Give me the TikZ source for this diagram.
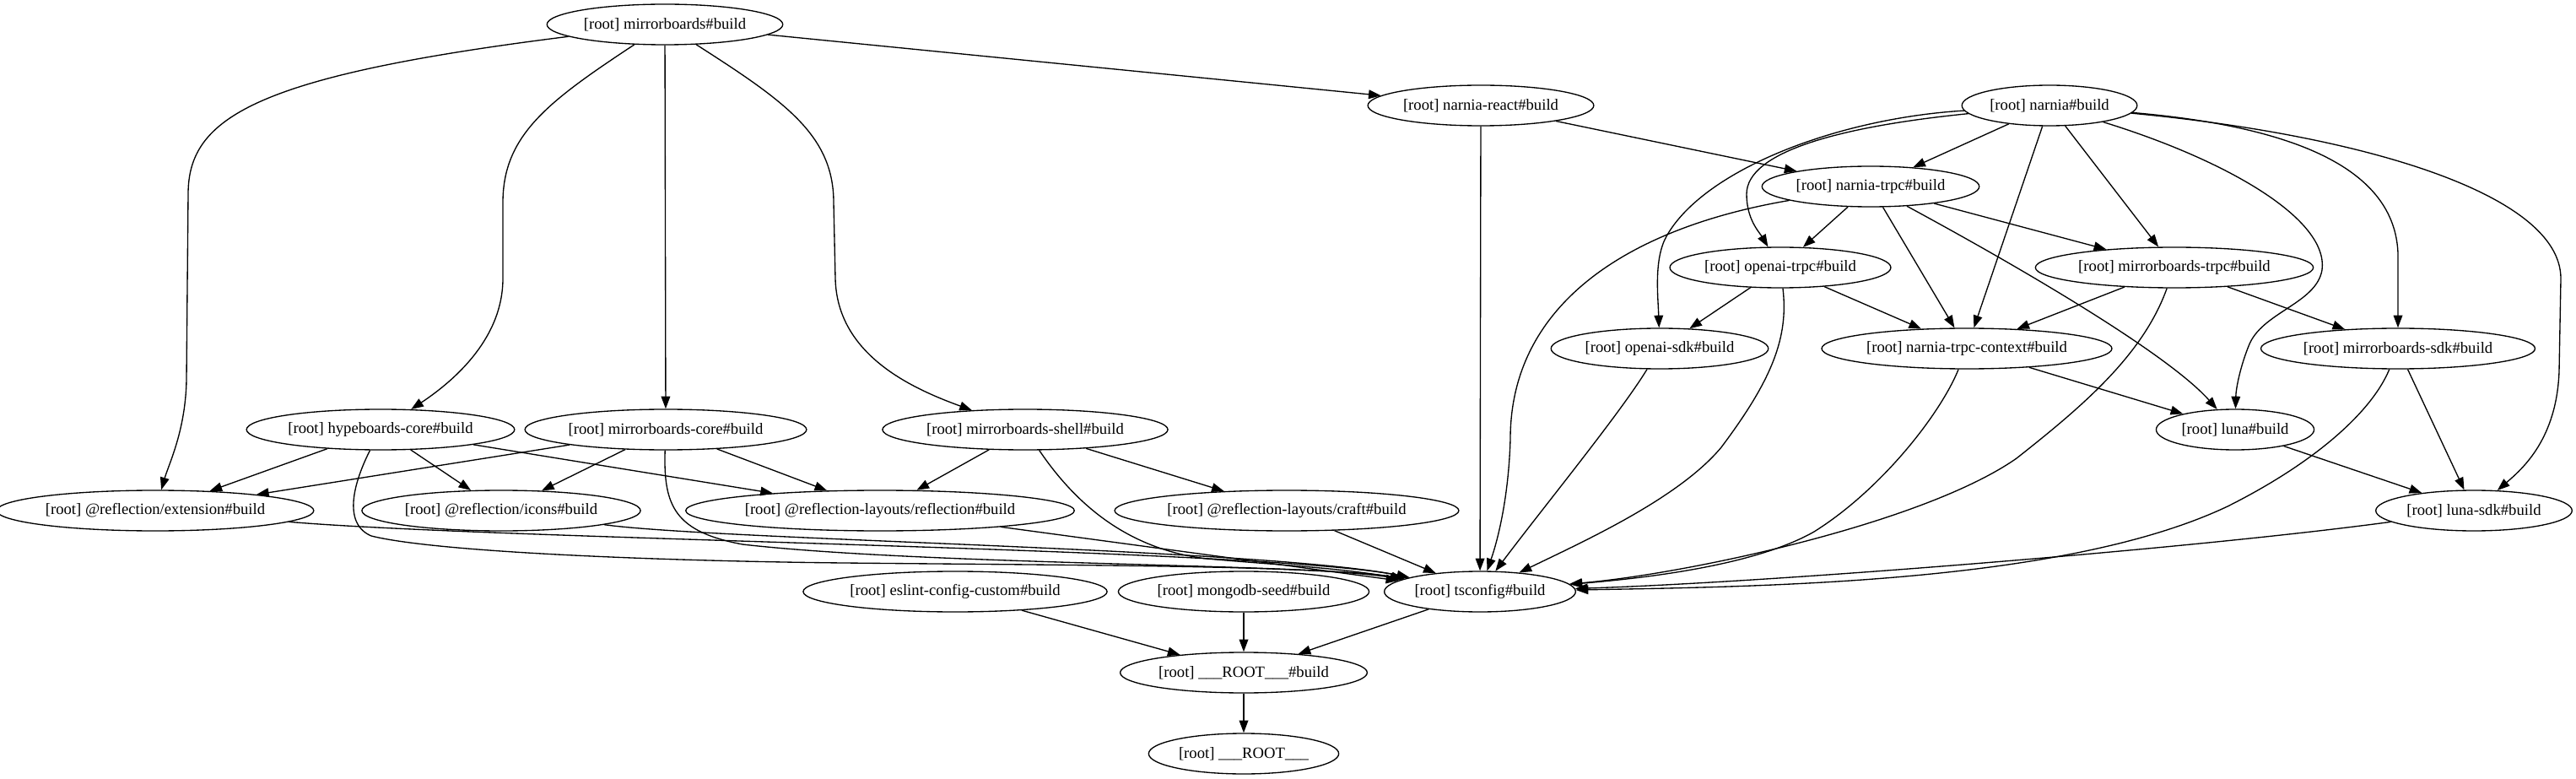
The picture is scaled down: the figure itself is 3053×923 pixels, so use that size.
\documentclass[tikz,border=0pt]{standalone}
\usepackage{fontspec}
\setmainfont{Liberation Serif}
\usetikzlibrary{arrows.meta,shapes.geometric}

\tikzset{
  task/.style={draw, ellipse, line width=1pt, inner xsep=2pt, inner ysep=0pt,
    minimum height=36pt, font=\fontsize{14pt}{16pt}\selectfont},
  dep/.style={line width=1pt, -{Triangle[length=11pt,width=8pt]}}
}

\begin{document}
\begin{tikzpicture}[x=0.75pt, y=-0.75pt]
  \useasboundingbox (0,0) rectangle (3053,923);

  \node[task] (mb) at (788,29) {[root] mirrorboards\#build};
  \node[task] (nreact) at (1755,125) {[root] narnia-react\#build};
  \node[task] (narnia) at (2429,125) {[root] narnia\#build};
  \node[task] (ntrpc) at (2217,221) {[root] narnia-trpc\#build};
  \node[task] (otrpc) at (2110,317) {[root] openai-trpc\#build};
  \node[task] (mtrpc) at (2577,317) {[root] mirrorboards-trpc\#build};
  \node[task] (osdk) at (1967,413) {[root] openai-sdk\#build};
  \node[task] (nctx) at (2331,413) {[root] narnia-trpc-context\#build};
  \node[task] (msdk) at (2842,413) {[root] mirrorboards-sdk\#build};
  \node[task] (hcore) at (451,509) {[root] hypeboards-core\#build};
  \node[task] (mcore) at (789,509) {[root] mirrorboards-core\#build};
  \node[task] (mshell) at (1215,509) {[root] mirrorboards-shell\#build};
  \node[task] (luna) at (2649,509) {[root] luna\#build};
  \node[task] (rext) at (184,605) {[root] @reflection/extension\#build};
  \node[task] (ricons) at (594,605) {[root] @reflection/icons\#build};
  \node[task] (rlay) at (1043,605) {[root] @reflection-layouts/reflection\#build};
  \node[task] (rcraft) at (1525,605) {[root] @reflection-layouts/craft\#build};
  \node[task] (lsdk) at (2932,605) {[root] luna-sdk\#build};
  \node[task] (eslint) at (1132,701) {[root] eslint-config-custom\#build};
  \node[task] (mongo) at (1474,701) {[root] mongodb-seed\#build};
  \node[task] (tscfg) at (1754,701) {[root] tsconfig\#build};
  \node[task] (rootb) at (1474,797) {[root] \_\_\_ROOT\_\_\_\#build};
  \node[task] (root) at (1474,893) {[root] \_\_\_ROOT\_\_\_};

  % mirrorboards
  \draw[dep] (mb) .. controls (300,90) and (223,140) .. (223,230) -- (221,450) .. controls (220,510) and (200,550) .. (rext);
  \draw[dep] (mb) .. controls (650,120) and (596,160) .. (596,240) -- (596,330) .. controls (596,400) and (540,450) .. (hcore);
  \draw[dep] (mb) -- (mcore);
  \draw[dep] (mb) .. controls (930,120) and (988,160) .. (988,240) -- (990,330) .. controls (992,420) and (1080,460) .. (mshell);
  \draw[dep] (mb) -- (nreact);

  % narnia-react
  \draw[dep] (nreact) -- (tscfg);
  \draw[dep] (nreact) -- (ntrpc);

  % narnia
  \draw[dep] (narnia) -- (ntrpc);
  \draw[dep] (narnia) .. controls (2180,150) and (2070,180) .. (2070,230) .. controls (2070,260) and (2085,275) .. (otrpc);
  \draw[dep] (narnia) .. controls (2180,140) and (2020,200) .. (1975,280) .. controls (1960,307) and (1965,350) .. (osdk);
  \draw[dep] (narnia) -- (nctx);
  \draw[dep] (narnia) -- (mtrpc);
  \draw[dep] (narnia) .. controls (2640,190) and (2760,260) .. (2752,320) .. controls (2745,360) and (2680,370) .. (2665,410) .. controls (2655,435) and (2650,460) .. (luna);
  \draw[dep] (narnia) .. controls (2720,150) and (2838,200) .. (2842,300) -- (msdk);
  \draw[dep] (narnia) .. controls (2800,160) and (3035,230) .. (3035,330) -- (3033,440) .. controls (3030,520) and (2990,555) .. (lsdk);

  % narnia-trpc
  \draw[dep] (ntrpc) -- (otrpc);
  \draw[dep] (ntrpc) -- (nctx);
  \draw[dep] (ntrpc) -- (mtrpc);
  \draw[dep] (ntrpc) .. controls (2400,320) and (2570,420) .. (luna);
  \draw[dep] (ntrpc) .. controls (1930,270) and (1790,360) .. (1790,520) .. controls (1788,590) and (1775,640) .. (tscfg);

  % openai-trpc, mirrorboards-trpc
  \draw[dep] (otrpc) -- (osdk);
  \draw[dep] (otrpc) -- (nctx);
  \draw[dep] (otrpc) .. controls (2120,400) and (2100,450) .. (2040,530) .. controls (1990,590) and (1880,640) .. (tscfg);
  \draw[dep] (mtrpc) -- (nctx);
  \draw[dep] (mtrpc) -- (msdk);
  \draw[dep] (mtrpc) .. controls (2540,420) and (2470,480) .. (2390,543) .. controls (2280,620) and (2000,680) .. (tscfg);

  % second row, right
  \draw[dep] (nctx) -- (luna);
  \draw[dep] (nctx) .. controls (2300,490) and (2230,580) .. (2150,630) .. controls (2080,670) and (1950,685) .. (tscfg);
  \draw[dep] (msdk) -- (lsdk);
  \draw[dep] (msdk) .. controls (2810,490) and (2740,550) .. (2640,600) .. controls (2450,690) and (2100,695) .. (tscfg);
  \draw[dep] (luna) -- (lsdk);
  \draw[dep] (lsdk) .. controls (2600,650) and (2100,690) .. (tscfg);
  \draw[dep] (osdk) .. controls (1920,490) and (1830,600) .. (tscfg);

  % core packages
  \draw[dep] (hcore) -- (rext);
  \draw[dep] (hcore) -- (ricons);
  \draw[dep] (hcore) -- (rlay);
  \draw[dep] (hcore) .. controls (420,570) and (405,620) .. (440,635) .. controls (520,655) and (800,665) .. (1000,667) .. controls (1300,670) and (1560,670) .. (tscfg);
  \draw[dep] (mcore) -- (rext);
  \draw[dep] (mcore) -- (ricons);
  \draw[dep] (mcore) -- (rlay);
  \draw[dep] (mcore) .. controls (786,600) and (800,630) .. (880,645) .. controls (1100,670) and (1560,668) .. (tscfg);
  \draw[dep] (mshell) -- (rlay);
  \draw[dep] (mshell) -- (rcraft);
  \draw[dep] (mshell) .. controls (1270,590) and (1330,650) .. (1430,662) .. controls (1520,670) and (1580,672) .. (tscfg);

  % reflection
  \draw[dep] (rext) .. controls (600,640) and (1500,650) .. (tscfg);
  \draw[dep] (ricons) .. controls (850,640) and (1500,650) .. (tscfg);
  \draw[dep] (rlay) -- (tscfg);
  \draw[dep] (rcraft) -- (tscfg);

  % root
  \draw[dep] (eslint) -- (rootb);
  \draw[dep] (mongo) -- (rootb);
  \draw[dep] (tscfg) -- (rootb);
  \draw[dep] (rootb) -- (root);
\end{tikzpicture}
\end{document}
